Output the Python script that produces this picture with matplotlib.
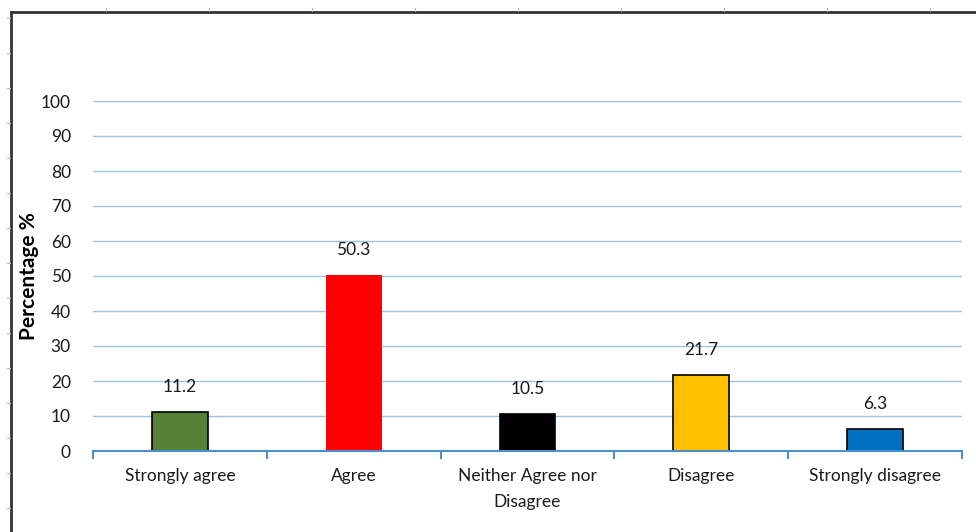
import numpy as np
import matplotlib.pyplot as plt
from matplotlib.lines import Line2D

plt.rcParams['font.family'] = ['Lato', 'DejaVu Sans']

# Datos de la encuesta
categorias = ["Strongly agree", "Agree", "Neither Agree nor\nDisagree", "Disagree", "Strongly disagree"]
porcentajes = [11.2, 50.3, 10.5, 21.7, 6.3]
colores = ["#538135", "#FF0000", "#000000", "#FFC000", "#0070C0"]
bordes = ["black", "none", "black", "black", "black"]
yticks = list(range(0, 101, 10))

fig = plt.figure(figsize=(9.76, 5.32), dpi=100)
ax = fig.add_axes([93 / 976, 1 - 451 / 532, 869 / 976, 350 / 532])

x = np.arange(len(categorias))
ax.bar(x, porcentajes, width=0.32, color=colores, edgecolor=bordes, linewidth=1.2, zorder=3)

# Etiquetas de valor sobre cada barra
for xi, v in zip(x, porcentajes):
    ax.text(xi, v + 4.8, f"{v:.1f}", ha="center", va="bottom", fontsize=12.5, color="#1a1a1a")

ax.set_xlim(-0.5, len(categorias) - 0.5)
ax.set_ylim(0, 100)
ax.set_yticks(yticks)
ax.tick_params(axis="y", length=0, pad=16, labelsize=12.5, labelcolor="#1a1a1a")
ax.grid(axis="y", color="#9DC3E6", linewidth=1, zorder=0)

for s in ["top", "right", "left"]:
    ax.spines[s].set_visible(False)
ax.spines["bottom"].set_color("#4A90D0")
ax.spines["bottom"].set_linewidth(1.5)
ax.spines["bottom"].set_zorder(4)

# Marcas entre categorías
ax.set_xticks(np.arange(-0.5, len(categorias), 1))
ax.set_xticklabels([])
ax.tick_params(axis="x", direction="out", length=6, width=1.5, color="#4A90D0")
for xi, c in zip(x, categorias):
    ax.text(xi, -5.0, c, ha="center", va="top", fontsize=12.5, color="#1a1a1a", linespacing=1.75)

ax.set_ylabel("Percentage %", fontsize=15, fontweight="bold")
ax.yaxis.set_label_coords(-0.062, 0.5)

# Marco exterior del gráfico
W, H = 976, 532
fig.add_artist(Line2D([11 / W, 11 / W], [0, 1 - 12 / H], color="#333333", lw=2, transform=fig.transFigure))
fig.add_artist(Line2D([11 / W, 1], [1 - 12 / H, 1 - 12 / H], color="#333333", lw=2, transform=fig.transFigure))

# Pequeñas marcas grises de la hoja de cálculo
for px in np.arange(106, W, 103):
    fig.add_artist(Line2D([px / W, px / W], [1 - 8 / H, 1 - 11 / H], color="#BBBBBB", lw=0.8, transform=fig.transFigure))
for py in np.arange(18, H, 35):
    fig.add_artist(Line2D([7 / W, 10 / W], [1 - py / H, 1 - py / H], color="#BBBBBB", lw=0.8, transform=fig.transFigure))

fig.savefig("out.png", dpi=100)
